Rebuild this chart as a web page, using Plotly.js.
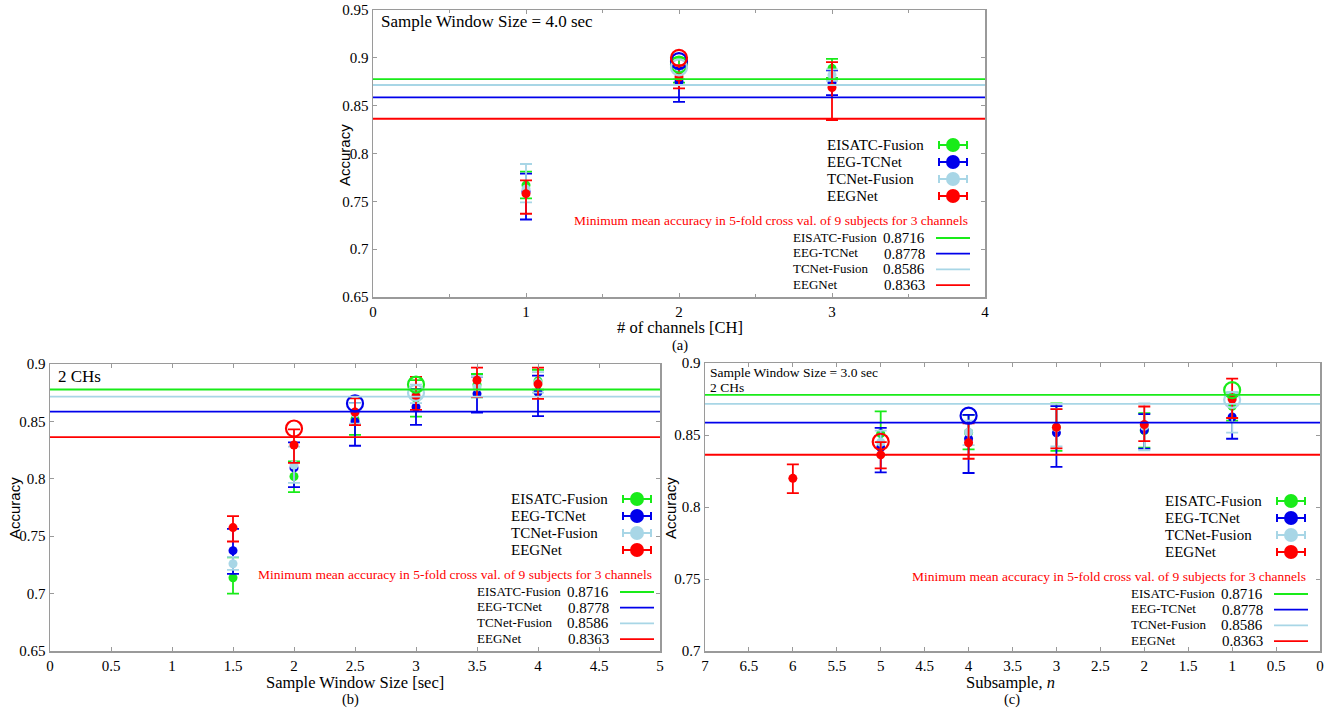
<!DOCTYPE html>
<html>
<head>
<meta charset="utf-8">
<script src="https://cdn.plot.ly/plotly-3.0.1.min.js"></script>
<style>
  body { margin: 0; background: #fff; }
  #chart { width: 1325px; height: 708px; }
</style>
</head>
<body>
<div id="chart"></div>
<script>
// ---- Data (series order: EISATC-Fusion, EEG-TCNet, TCNet-Fusion, EEGNet) ----
const seriesNames = ['EISATC-Fusion', 'EEG-TCNet', 'TCNet-Fusion', 'EEGNet'];
const minLineLevels = [0.8778, 0.8586, 0.8716, 0.8363];
const tableNames = ['EISATC-Fusion', 'EEG-TCNet', 'TCNet-Fusion', 'EEGNet'];
const tableValues = ['0.8716', '0.8778', '0.8586', '0.8363'];

// (a) number of channels
const chX = [[1, 2, 3], [1, 2, 3], [1, 2, 3], [1, 2, 3]];
const chMean = [[0.767, 0.887, 0.889], [0.760, 0.875, 0.874], [0.763, 0.885, 0.882], [0.758, 0.880, 0.869]];
const chHigh = [[0.781, 0.900, 0.899], [0.779, 0.890, 0.887], [0.789, 0.892, 0.888], [0.772, 0.892, 0.8955]];
const chLow  = [[0.753, 0.874, 0.879], [0.731, 0.854, 0.861], [0.749, 0.878, 0.876], [0.737, 0.868, 0.835]];
const chBestX = [2, 2, 2, 2];
const chBestY = [0.893, 0.8965, 0.890, 0.900];

// (b) sample window size
const swX = [[1.5, 2, 2.5, 3, 3.5, 4], [1.5, 2, 2.5, 3, 3.5, 4], [1.5, 2, 2.5, 3, 3.5, 4], [1.5, 2, 2.5, 3, 3.5, 4]];
const swMean = [
  [0.7138, 0.802, 0.852, 0.870, 0.882, 0.8853],
  [0.7374, 0.8095, 0.8498, 0.8625, 0.874, 0.8753],
  [0.726, 0.812, 0.857, 0.874, 0.880, 0.884],
  [0.7575, 0.8294, 0.8582, 0.872, 0.8859, 0.8825]
];
const swHigh = [
  [0.7316, 0.8152, 0.866, 0.886, 0.8913, 0.895],
  [0.7563, 0.8317, 0.866, 0.878, 0.889, 0.8899],
  [0.732, 0.828, 0.866, 0.882, 0.889, 0.893],
  [0.7675, 0.843, 0.870, 0.8888, 0.8968, 0.8968]
];
const swLow = [
  [0.700, 0.7884, 0.8383, 0.8542, 0.871, 0.8776],
  [0.7172, 0.7927, 0.8288, 0.847, 0.8576, 0.8546],
  [0.7207, 0.7965, 0.848, 0.866, 0.871, 0.875],
  [0.7454, 0.8138, 0.8467, 0.860, 0.8712, 0.8696]
];
const swBestX = [3, 2.5, 3, 2];
const swBestY = [0.8821, 0.8657, 0.8749, 0.8438];

// (c) subsample n
const ssX = [[5, 4, 3, 2, 1], [5, 4, 3, 2, 1], [5, 4, 3, 2, 1], [6, 5, 4, 3, 2, 1]];
const ssMean = [
  [0.851, 0.8517, 0.855, 0.853, 0.870],
  [0.8412, 0.8474, 0.8515, 0.8535, 0.8625],
  [0.845, 0.852, 0.855, 0.856, 0.8744],
  [0.8199, 0.8362, 0.8446, 0.8554, 0.8573, 0.875]
];
const ssHigh = [
  [0.8664, 0.864, 0.872, 0.8652, 0.879],
  [0.8549, 0.864, 0.870, 0.8645, 0.877],
  [0.853, 0.860, 0.868, 0.872, 0.880],
  [0.8296, 0.845, 0.8581, 0.868, 0.8698, 0.8892]
];
const ssLow = [
  [0.836, 0.840, 0.839, 0.8412, 0.860],
  [0.824, 0.8236, 0.8279, 0.8405, 0.8474],
  [0.836, 0.843, 0.842, 0.8394, 0.8517],
  [0.8096, 0.8268, 0.8335, 0.8407, 0.8458, 0.8618]
];
const ssBestX = [1, 4, 1, 5];
const ssBestY = [0.8812, 0.8634, 0.8744, 0.8453];

// ---- Styles ----
const colors = ['rgb(25,235,25)', 'rgb(0,0,235)', 'rgb(168,214,230)', 'rgb(255,0,0)'];
const serif = '"Liberation Serif", "Times New Roman", serif';
const sans = '"Liberation Sans", Arial, sans-serif';
const W = 1325, H = 708;
const px = v => v / W;
const py = v => 1 - v / H;

const traces = [];
const shapes = [];
const annotations = [];

function addPanel(xa, ya, xs, mean, high, low, bestX, bestY) {
  // filled means with error bars
  for (let i = 0; i < 4; i++) {
    traces.push({
      type: 'scatter', mode: 'markers', xaxis: xa, yaxis: ya,
      x: xs[i], y: mean[i], name: seriesNames[i], showlegend: false,
      marker: { color: colors[i], size: 9 },
      error_y: {
        type: 'data', symmetric: false,
        array: high[i].map((h, k) => h - mean[i][k]),
        arrayminus: low[i].map((l, k) => mean[i][k] - l),
        color: colors[i], thickness: 1.8, width: 6
      }
    });
  }
  // open circles for the highlighted points
  for (let i = 0; i < 4; i++) {
    traces.push({
      type: 'scatter', mode: 'markers', xaxis: xa, yaxis: ya,
      x: [bestX[i]], y: [bestY[i]], showlegend: false, hoverinfo: 'skip',
      marker: { symbol: 'circle-open', color: colors[i], size: 16, line: { width: 2.2, color: colors[i] } }
    });
  }
  // minimum mean accuracy lines
  const xref = xa + ' domain';
  [0, 2, 1, 3].forEach(i => {
    shapes.push({
      type: 'line', xref: xref, yref: ya, x0: 0, x1: 1,
      y0: minLineLevels[i], y1: minLineLevels[i],
      line: { color: colors[i], width: 1.8 }
    });
  });
}

function addLegend(nameX, row0) {
  const rowGap = 17;
  for (let i = 0; i < 4; i++) {
    const y = row0 + i * rowGap;
    annotations.push({
      xref: 'paper', yref: 'paper', x: px(nameX), y: py(y), xanchor: 'left', yanchor: 'middle',
      text: seriesNames[i], showarrow: false, font: { family: serif, size: 15, color: '#000' }
    });
    const cx = nameX + 128;
    shapes.push({ type: 'line', xref: 'paper', yref: 'paper', x0: px(cx - 14), x1: px(cx + 14), y0: py(y), y1: py(y), line: { color: colors[i], width: 2 } });
    shapes.push({ type: 'line', xref: 'paper', yref: 'paper', x0: px(cx - 14), x1: px(cx - 14), y0: py(y - 4), y1: py(y + 4), line: { color: colors[i], width: 2 } });
    shapes.push({ type: 'line', xref: 'paper', yref: 'paper', x0: px(cx + 14), x1: px(cx + 14), y0: py(y - 4), y1: py(y + 4), line: { color: colors[i], width: 2 } });
    shapes.push({ type: 'circle', xref: 'paper', yref: 'paper', x0: px(cx - 7), x1: px(cx + 7), y0: py(y - 7), y1: py(y + 7), fillcolor: colors[i], line: { color: colors[i], width: 0 } });
  }
  annotations.push({
    xref: 'paper', yref: 'paper', x: px(nameX + 145), y: py(row0 + 75), xanchor: 'right', yanchor: 'middle',
    text: 'Minimum mean accuracy in 5-fold cross val. of 9 subjects for 3 channels',
    showarrow: false, font: { family: serif, size: 13.5, color: 'rgb(255,0,0)' }
  });
  const tableGap = 15.7;
  for (let i = 0; i < 4; i++) {
    const y = row0 + 92 + i * tableGap;
    annotations.push({
      xref: 'paper', yref: 'paper', x: px(nameX - 34), y: py(y), xanchor: 'left', yanchor: 'middle',
      text: tableNames[i], showarrow: false, font: { family: serif, size: 13, color: '#000' }
    });
    annotations.push({
      xref: 'paper', yref: 'paper', x: px(nameX + 102), y: py(y + 1), xanchor: 'right', yanchor: 'middle',
      text: tableValues[i], showarrow: false, font: { family: serif, size: 15, color: '#000' }
    });
    shapes.push({ type: 'line', xref: 'paper', yref: 'paper', x0: px(nameX + 111), x1: px(nameX + 145), y0: py(y + 1), y1: py(y + 1), line: { color: colors[i], width: 1.8 } });
  }
}

function textAt(x, y, text, font, opts) {
  annotations.push(Object.assign({
    xref: 'paper', yref: 'paper', x: px(x), y: py(y), xanchor: 'center', yanchor: 'middle',
    text: text, showarrow: false, font: font, borderpad: 0
  }, opts || {}));
}

addPanel('x', 'y', chX, chMean, chHigh, chLow, chBestX, chBestY);
addPanel('x2', 'y2', swX, swMean, swHigh, swLow, swBestX, swBestY);
addPanel('x3', 'y3', ssX, ssMean, ssHigh, ssLow, ssBestX, ssBestY);

addLegend(825, 145);
addLegend(509, 499);
addLegend(1163, 501);

const titleFont = { family: serif, size: 16.5, color: '#000' };
const capFont = { family: serif, size: 14.5, color: '#000' };
const yTitleFont = { family: sans, size: 15, color: '#000' };

// panel texts
textAt(380, 22, 'Sample Window Size = 4.0 sec', { family: serif, size: 17, color: '#000' }, { xanchor: 'left' });
textAt(57, 377, '2 CHs', { family: serif, size: 17, color: '#000' }, { xanchor: 'left' });
textAt(709, 372, 'Sample Window Size = 3.0 sec', { family: serif, size: 13.5, color: '#000' }, { xanchor: 'left' });
textAt(709, 387, '2 CHs', { family: serif, size: 13.5, color: '#000' }, { xanchor: 'left' });

// axis titles and captions
textAt(680, 328, '# of channels [CH]', titleFont);
textAt(680, 345, '(a)', capFont);
textAt(344, 155, 'Accuracy', yTitleFont, { textangle: -90 });
textAt(355, 682, 'Sample Window Size [sec]', titleFont);
textAt(350, 699, '(b)', capFont);
textAt(14, 508, 'Accuracy', yTitleFont, { textangle: -90 });
textAt(1010, 682, 'Subsample, <i>n</i>', titleFont);
textAt(1012, 699, '(c)', capFont);
textAt(670, 508, 'Accuracy', yTitleFont, { textangle: -90 });

const axisBase = {
  showline: true, linecolor: '#9a9a9a', linewidth: 1.5, mirror: 'ticks',
  ticks: 'inside', ticklen: 4, tickcolor: '#9a9a9a', tickwidth: 1,
  showgrid: false, zeroline: false,
  tickfont: { family: serif, size: 15, color: '#000' }
};

const layout = {
  width: W, height: H,
  margin: { l: 0, r: 0, t: 0, b: 0 },
  paper_bgcolor: '#fff', plot_bgcolor: '#fff',
  showlegend: false,
  font: { family: serif },
  xaxis: Object.assign({}, axisBase, { domain: [px(373), px(985)], range: [0, 4], dtick: 1, anchor: 'y',
    minor: { ticks: 'inside', dtick: 0.5, ticklen: 3, tickcolor: '#9a9a9a' } }),
  yaxis: Object.assign({}, axisBase, { domain: [py(297), py(10)], range: [0.65, 0.95], dtick: 0.05, anchor: 'x' }),
  xaxis2: Object.assign({}, axisBase, { domain: [px(50), px(660)], range: [0, 5], dtick: 0.5, anchor: 'y2' }),
  yaxis2: Object.assign({}, axisBase, { domain: [py(651), py(364)], range: [0.65, 0.9], dtick: 0.05, anchor: 'x2' }),
  xaxis3: Object.assign({}, axisBase, { domain: [px(705), px(1320)], range: [7, 0], dtick: 0.5, anchor: 'y3' }),
  yaxis3: Object.assign({}, axisBase, { domain: [py(651), py(363)], range: [0.7, 0.9], dtick: 0.05, anchor: 'x3' }),
  shapes: shapes,
  annotations: annotations
};

Plotly.newPlot('chart', traces, layout, { displayModeBar: false, staticPlot: true });
</script>
</body>
</html>
